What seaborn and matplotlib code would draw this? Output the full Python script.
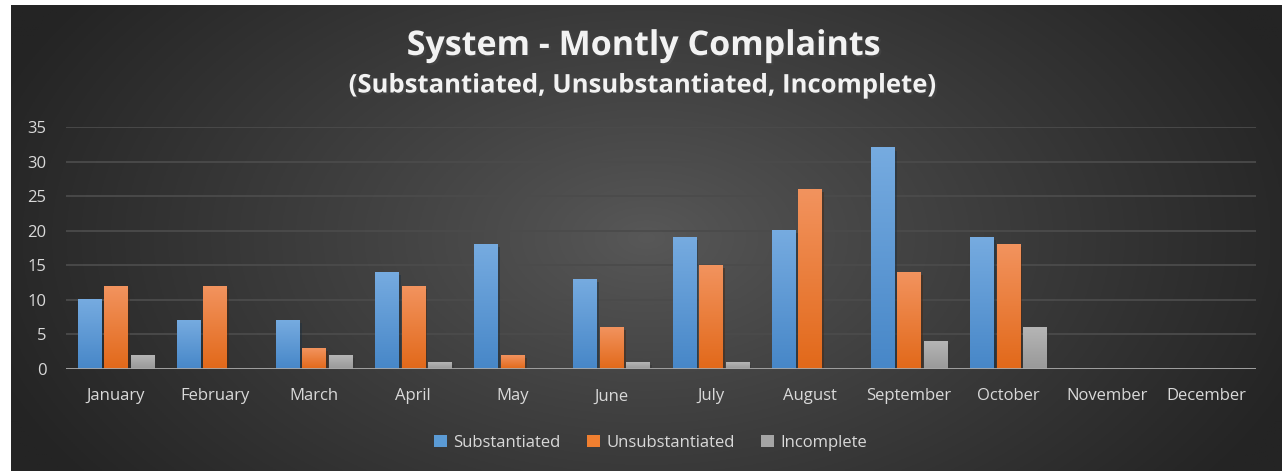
import numpy as np
import pandas as pd
import matplotlib
matplotlib.use('Agg')
import matplotlib.pyplot as plt
import matplotlib.patheffects as pe
from matplotlib.colors import to_rgb
import seaborn as sns

months = ['January', 'February', 'March', 'April', 'May', 'June',
          'July', 'August', 'September', 'October', 'November', 'December']
substantiated = [10, 7, 7, 14, 18, 13, 19, 20, 32, 19, 0, 0]
unsubstantiated = [12, 12, 3, 12, 2, 6, 15, 26, 14, 18, 0, 0]
incomplete = [2, 0, 2, 1, 0, 1, 1, 0, 4, 6, 0, 0]
series = ['Substantiated', 'Unsubstantiated', 'Incomplete']
colors = ['#5b9bd5', '#f07f30', '#a5a5a5']
# top / bottom shades for the bar gradients
tops = ['#76abe0', '#f2935e', '#b5b5b5']
bottoms = ['#4787c8', '#e2691a', '#999999']

df = pd.DataFrame({
    'Month': months * 3,
    'Series': np.repeat(series, len(months)),
    'Count': substantiated + unsubstantiated + incomplete,
})

plt.rcParams['font.family'] = ['Open Sans', 'DejaVu Sans']

W, H = 1286, 471
fig = plt.figure(figsize=(W / 100, H / 100), dpi=100, facecolor='white')

# dark radial background panel
bg = fig.add_axes([11 / W, 0, 1 - 15 / W, 1 - 5 / H], zorder=0)
gx, gy = np.meshgrid(np.linspace(0, 1, 640), np.linspace(0, 1, 240))
r = np.sqrt(((gx - 0.5) / 0.55) ** 2 + ((gy - 0.5) / 0.9) ** 2)
r = np.clip(r, 0, 1) ** 0.9
c0, c1 = np.array(to_rgb('#585858')), np.array(to_rgb('#242424'))
img = c0[None, None, :] * (1 - r[..., None]) + c1[None, None, :] * r[..., None]
bg.imshow(img, aspect='auto', extent=[0, 1, 0, 1])
bg.axis('off')

ax = fig.add_axes([66 / W, 102 / H, (1256 - 66) / W, (369 - 127) / H], zorder=1)
ax.patch.set_alpha(0)

sns.barplot(data=df, x='Month', y='Count', hue='Series', palette=colors,
            width=0.8, gap=0.13, saturation=1, ax=ax, zorder=3)

# gradient fill + soft shadow on every bar
for i, p in enumerate(ax.patches):
    k = i // len(months)
    if k > 2 or p.get_height() <= 0:
        continue
    x0, w, h = p.get_x(), p.get_width(), p.get_height()
    p.set_path_effects([pe.SimplePatchShadow(offset=(2, -2), alpha=0.45), pe.Normal()])
    t, b = np.array(to_rgb(tops[k])), np.array(to_rgb(bottoms[k]))
    s = np.linspace(0, 1, 64)[:, None]
    grad = (t * (1 - s) + b * s)[:, None, :]
    ax.imshow(grad, aspect='auto', extent=[x0, x0 + w, 0, h], zorder=4,
              interpolation='bilinear')

ax.set_xlim(-0.5, len(months) - 0.5)
ax.set_ylim(0, 35)
ax.set_yticks(range(0, 36, 5))
ax.grid(axis='y', color='#4b4b4b', linewidth=1.3, zorder=0)
ax.grid(axis='x', visible=False)
ax.axhline(0, color='#a8a8a8', linewidth=2, zorder=5)
for sp in ax.spines.values():
    sp.set_visible(False)
ax.tick_params(length=0, colors='#d9d9d9', labelsize=12)
ax.tick_params(axis='x', pad=14)
ax.tick_params(axis='y', pad=14)
ax.set_xlabel('')
ax.set_ylabel('')

handles, labels = ax.get_legend_handles_labels()
ax.get_legend().remove()
fig.legend(handles, labels, loc='center', bbox_to_anchor=(0.506, 28 / H), ncol=3,
           frameon=False, labelcolor='#d9d9d9', fontsize=12, handlelength=0.75,
           handleheight=0.75, columnspacing=1.6, handletextpad=0.4)

shadow = [pe.withSimplePatchShadow(offset=(1.5, -1.5), alpha=0.6)]
fig.text(0.5, 1 - 46 / H, 'System - Montly Complaints', ha='center', va='center',
         fontsize=24.5, fontweight='bold', color='#f2f2f2', path_effects=shadow)
fig.text(0.5, 1 - 85 / H, '(Substantiated, Unsubstantiated, Incomplete)', ha='center',
         va='center', fontsize=18.5, fontweight='bold', color='#f2f2f2', path_effects=shadow)

fig.savefig('out.png', dpi=100, facecolor='white')
